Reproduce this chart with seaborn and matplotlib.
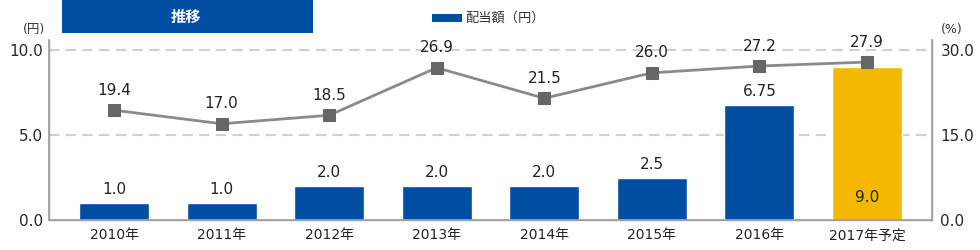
import numpy as np
import pandas as pd
import matplotlib
matplotlib.use("Agg")
import matplotlib.pyplot as plt
import seaborn as sns
from matplotlib.patches import Rectangle

sns.set_theme(style="white")
plt.rcParams['font.family'] = ['DejaVu Sans', 'Noto Sans CJK JP']

years = ["2010年", "2011年", "2012年", "2013年", "2014年", "2015年", "2016年", "2017年予定"]
dividends = [1.0, 1.0, 2.0, 2.0, 2.0, 2.5, 6.75, 9.0]
dividend_labels = ["1.0", "1.0", "2.0", "2.0", "2.0", "2.5", "6.75", "9.0"]
payout_ratio = [19.4, 17.0, 18.5, 26.9, 21.5, 26.0, 27.2, 27.9]
payout_labels = ["19.4", "17.0", "18.5", "26.9", "21.5", "26.0", "27.2", "27.9"]
left_ticks = [0.0, 5.0, 10.0]
right_ticks = [0.0, 15.0, 30.0]

BLUE = "#004EA2"
YELLOW = "#F5B800"
GRAY_LINE = "#8a8a8a"
MARKER = "#666666"
SPINE = "#a0a0a0"

df = pd.DataFrame({"year": years, "dividend": dividends})
colors = [BLUE] * (len(years) - 1) + [YELLOW]

fig = plt.figure(figsize=(9.8, 2.5), dpi=100)
ax = fig.add_axes([0.05, 0.12, 0.901, 0.72])

sns.barplot(data=df, x="year", y="dividend", hue="year", palette=colors,
            legend=False, width=0.65, ax=ax, saturation=1)

ax.set_ylim(0, 10.6)
ax.set_xlim(-0.605, len(years) - 1 + 0.605)
ax.set_yticks(left_ticks)
ax.set_yticklabels([f"{v:.1f}" for v in left_ticks], fontsize=11)
ax.set_xlabel("")
ax.set_ylabel("")
ax.tick_params(axis="x", labelsize=10, length=0, pad=6)
ax.tick_params(axis="y", length=0, pad=4)
for t in ax.get_xticklabels():
    t.set_color("#222222")

for v in left_ticks[1:]:
    ax.axhline(v, color="#d0d0d0", lw=1.5, ls=(0, (5, 3)), zorder=0)

for s in ["top"]:
    ax.spines[s].set_visible(False)
for s in ["left", "right", "bottom"]:
    ax.spines[s].set_color(SPINE)
    ax.spines[s].set_linewidth(1.0)

# bar value labels
for i, (v, lab) in enumerate(zip(dividends, dividend_labels)):
    if i == len(dividends) - 1:
        ax.text(i, 0.9, lab, ha="center", va="bottom", fontsize=11, color="#222222")
    else:
        ax.text(i, v + 0.35, lab, ha="center", va="bottom", fontsize=11, color="#222222")

ax2 = ax.twinx()
sns.lineplot(x=np.arange(len(years)), y=payout_ratio, ax=ax2, color=GRAY_LINE,
             lw=2, marker="s", markersize=9, markerfacecolor=MARKER,
             markeredgecolor=MARKER, zorder=5)
ax2.set_ylim(0, 31.8)
ax2.set_yticks(right_ticks)
ax2.set_yticklabels([f"{v:.1f}" for v in right_ticks], fontsize=11)
ax2.tick_params(axis="y", length=0, pad=6)
ax2.set_xlim(ax.get_xlim())
ax2.spines["top"].set_visible(False)
for s in ["left", "right", "bottom"]:
    ax2.spines[s].set_color(SPINE)
ax2.grid(False)

for i, (v, lab) in enumerate(zip(payout_ratio, payout_labels)):
    ax2.text(i, v + 2.2, lab, ha="center", va="bottom", fontsize=11, color="#222222")

# axis unit labels
fig.text(34 / 980, 1 - 30 / 250, "(円)", ha="center", va="center", fontsize=9, color="#333333")
fig.text(952 / 980, 1 - 30 / 250, "(%)", ha="center", va="center", fontsize=9, color="#333333")

# title box
fig.patches.append(Rectangle((62 / 980, 1 - 33 / 250), 251 / 980, 33 / 250,
                             transform=fig.transFigure, facecolor=BLUE, edgecolor="none"))
fig.text(186 / 980, 1 - 17 / 250, "推移", ha="center", va="center", fontsize=11,
         color="white", fontweight="bold")

# legend
fig.patches.append(Rectangle((432 / 980, 1 - 22 / 250), 30 / 980, 8 / 250,
                             transform=fig.transFigure, facecolor=BLUE, edgecolor="none"))
fig.text(465 / 980, 1 - 18 / 250, "配当額（円）", ha="left", va="center", fontsize=9.5,
         color="#333333")

fig.savefig("out.png", dpi=100)
